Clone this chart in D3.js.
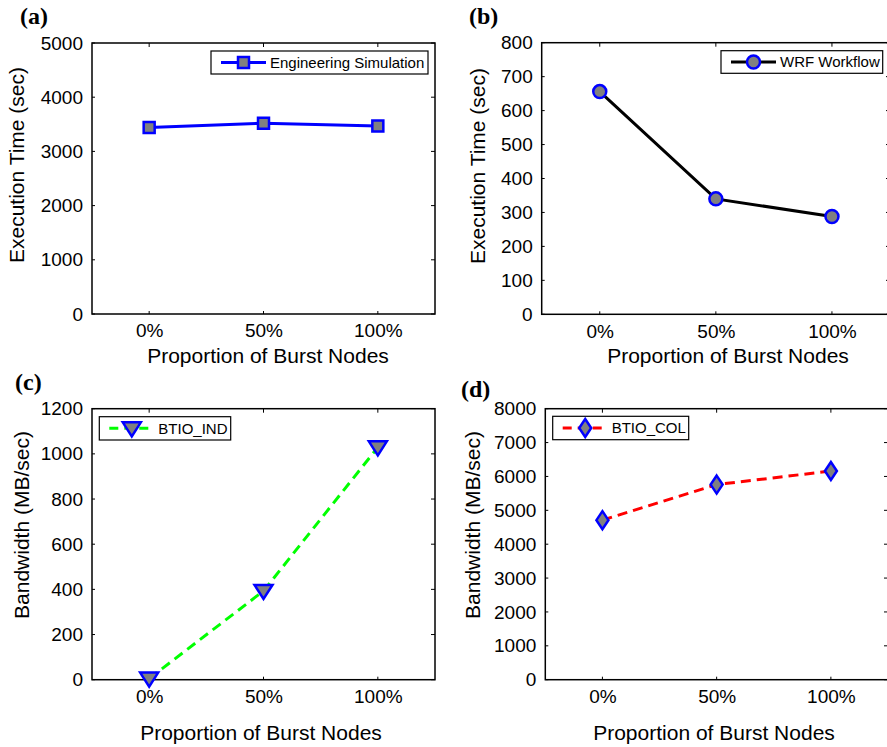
<!DOCTYPE html>
<html>
<head>
<meta charset="utf-8">
<script src="https://cdn.jsdelivr.net/npm/d3@7"></script>
<style>
  body { margin: 0; background: #fff; }
  svg { display: block; }
  text { font-family: "Liberation Sans", Arial, sans-serif; fill: #000; }
</style>
</head>
<body>
<div id="chart"></div>
<script>
// data
var categories = ["0%", "50%", "100%"];
var engSimTime = [3440, 3520, 3470];
var wrfTime = [656, 340, 288];
var btioIndBw = [5, 393, 1029];
var btioColBw = [4710, 5760, 6160];

var ticksA = [0, 1000, 2000, 3000, 4000, 5000];
var ticksB = [0, 100, 200, 300, 400, 500, 600, 700, 800];
var ticksC = [0, 200, 400, 600, 800, 1000, 1200];
var ticksD = [0, 1000, 2000, 3000, 4000, 5000, 6000, 7000, 8000];

var W = 887, H = 747;
var svg = d3.select("#chart").append("svg")
	.attr("width", W)
	.attr("height", H);

var panels = [
	{ tag: "(a)", tagX: 20, tagY: 24, box: [92, 43, 435, 314], values: engSimTime, ticks: ticksA,
	  ylab: "Execution Time (sec)", ylabX: 24, ylabY: 165, xlabX: 268, xlabY: 363,
	  name: "Engineering Simulation", color: "#0000ff", dash: null, marker: "square",
	  legend: [211, 51, 428, 74] },
	{ tag: "(b)", tagX: 469, tagY: 24, box: [541.7, 42.7, 890, 314.3], values: wrfTime, ticks: ticksB,
	  ylab: "Execution Time (sec)", ylabX: 485, ylabY: 166, xlabX: 728, xlabY: 363,
	  name: "WRF Workflow", color: "#000000", dash: null, marker: "circle",
	  legend: [721, 50.7, 882.7, 73.3] },
	{ tag: "(c)", tagX: 15, tagY: 390, box: [92, 408.7, 435, 679.7], values: btioIndBw, ticks: ticksC,
	  ylab: "Bandwidth (MB/sec)", ylabX: 29, ylabY: 525, xlabX: 261, xlabY: 740,
	  name: "BTIO_IND", color: "#00ff00", dash: "10,6", marker: "triangle",
	  legend: [99.3, 416.7, 230.7, 440] },
	{ tag: "(d)", tagX: 461, tagY: 397, box: [545.3, 408.7, 888, 679.7], values: btioColBw, ticks: ticksD,
	  ylab: "Bandwidth (MB/sec)", ylabX: 480, ylabY: 525, xlabX: 714, xlabY: 740,
	  name: "BTIO_COL", color: "#ff0000", dash: "10,6", marker: "diamond",
	  legend: [552.7, 416.3, 688.7, 439.7] }
];

function markerPath(type) {
	if (type === "square") return "M-5.5,-5.5H5.5V5.5H-5.5Z";
	if (type === "triangle") return "M-9,-6L9,-6L0,8Z";
	if (type === "diamond") return "M0,-9L6,0L0,9L-6,0Z";
	return null;
}

function drawMarker(g, type, x, y) {
	var m;
	if (type === "circle") {
		m = g.append("circle").attr("cx", x).attr("cy", y).attr("r", 6.5);
	} else {
		m = g.append("path").attr("d", markerPath(type))
			.attr("transform", "translate(" + x + "," + y + ")");
	}
	m.attr("fill", "#808080").attr("stroke", "#0000ff").attr("stroke-width", 2.5);
}

panels.forEach(function(p) {
	var x0 = p.box[0], y0 = p.box[1], x1 = p.box[2], y1 = p.box[3];
	var g = svg.append("g");

	var x = d3.scalePoint().domain(categories).range([x0, x1]).padding(0.5);
	var y = d3.scaleLinear().domain([0, d3.max(p.ticks)]).range([y1, y0]);

	// tick labels come from d3 axes, tick marks drawn inward on all sides below
	var yAxis = d3.axisLeft(y).tickValues(p.ticks).tickSize(0).tickPadding(9).tickFormat(d3.format("d"));
	var ya = g.append("g").attr("transform", "translate(" + x0 + ",0)").call(yAxis);
	ya.select(".domain").remove();
	ya.selectAll("text").style("font-size", "19px").style("font-family", "Liberation Sans, Arial, sans-serif").attr("fill", "#000");

	var xAxis = d3.axisBottom(x).tickSize(0).tickPadding(10);
	var xa = g.append("g").attr("transform", "translate(0," + y1 + ")").call(xAxis);
	xa.select(".domain").remove();
	xa.selectAll("text").style("font-size", "19px").style("font-family", "Liberation Sans, Arial, sans-serif").attr("fill", "#000");

	var ticks = g.append("g").attr("stroke", "#000").attr("stroke-width", 1);
	p.ticks.forEach(function(t) {
		ticks.append("line").attr("x1", x0).attr("x2", x0 + 3).attr("y1", y(t)).attr("y2", y(t));
		ticks.append("line").attr("x1", x1).attr("x2", x1 - 4).attr("y1", y(t)).attr("y2", y(t));
	});
	categories.forEach(function(c) {
		ticks.append("line").attr("x1", x(c)).attr("x2", x(c)).attr("y1", y1).attr("y2", y1 - 3);
		ticks.append("line").attr("x1", x(c)).attr("x2", x(c)).attr("y1", y0).attr("y2", y0 + 4);
	});

	// box
	g.append("rect")
		.attr("x", x0).attr("y", y0)
		.attr("width", x1 - x0).attr("height", y1 - y0)
		.attr("fill", "none").attr("stroke", "#000").attr("stroke-width", 1.5);

	// series line
	var line = d3.line()
		.x(function(d, i) { return x(categories[i]); })
		.y(function(d) { return y(d); });
	g.append("path")
		.datum(p.values)
		.attr("d", line)
		.attr("fill", "none")
		.attr("stroke", p.color)
		.attr("stroke-width", 3)
		.attr("stroke-dasharray", p.dash);

	p.values.forEach(function(v, i) {
		drawMarker(g, p.marker, x(categories[i]), y(v));
	});

	// legend
	var L = p.legend;
	g.append("rect")
		.attr("x", L[0]).attr("y", L[1])
		.attr("width", L[2] - L[0]).attr("height", L[3] - L[1])
		.attr("fill", "#fff").attr("stroke", "#000").attr("stroke-width", 1.2);
	var ly = (L[1] + L[3]) / 2;
	g.append("line")
		.attr("x1", L[0] + 10).attr("x2", L[0] + 55)
		.attr("y1", ly).attr("y2", ly)
		.attr("stroke", p.color).attr("stroke-width", 3)
		.attr("stroke-dasharray", p.dash ? "9,6" : null);
	drawMarker(g, p.marker, L[0] + 32.5, ly);
	g.append("text")
		.attr("x", L[0] + 59).attr("y", ly)
		.attr("dy", "0.36em")
		.style("font-size", "15px")
		.text(p.name);

	// axis titles
	g.append("text")
		.attr("transform", "translate(" + p.ylabX + "," + p.ylabY + ") rotate(-90)")
		.attr("text-anchor", "middle")
		.style("font-size", "21px")
		.text(p.ylab);
	g.append("text")
		.attr("x", p.xlabX)
		.attr("y", p.xlabY)
		.attr("text-anchor", "middle")
		.style("font-size", "21px")
		.text("Proportion of Burst Nodes");

	// panel tag
	g.append("text")
		.attr("x", p.tagX).attr("y", p.tagY)
		.style("font-family", "Liberation Serif, Times New Roman, serif")
		.style("font-weight", "bold")
		.style("font-size", "24px")
		.text(p.tag);
});
</script>
</body>
</html>
